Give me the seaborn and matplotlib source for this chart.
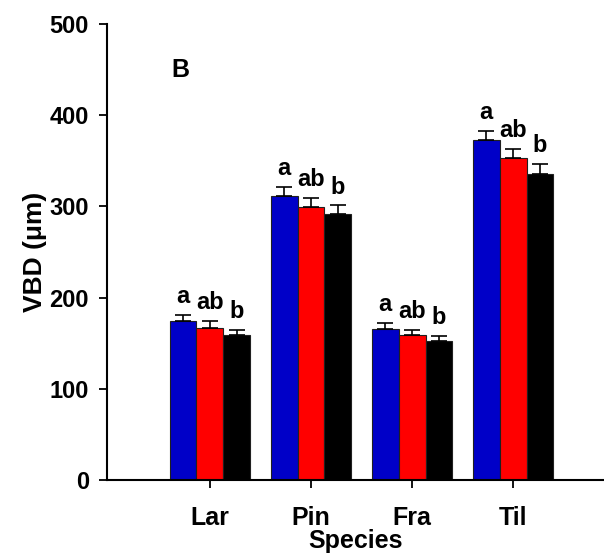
import numpy as np
import pandas as pd
import matplotlib
matplotlib.use("Agg")
import matplotlib.pyplot as plt
import seaborn as sns

# ============================================================
# 数据
# ============================================================

species = ["Lar", "Pin", "Fra", "Til"]
groups = ["G1", "G2", "G3"]
vbd_mean = [
    [174, 167, 159],   # Lar
    [311, 299, 292],   # Pin
    [166, 159, 152],   # Fra
    [373, 353, 336],   # Til
]
vbd_err = [
    [7, 7, 6],
    [10, 10, 9],
    [6, 5, 6],
    [10, 10, 10],
]
letters = ["a", "ab", "b"]
colors = ["#0000c8", "#ff0000", "#000000"]

rows = []
for i, sp in enumerate(species):
    for j, g in enumerate(groups):
        rows.append({"species": sp, "group": g,
                     "vbd": vbd_mean[i][j], "err": vbd_err[i][j]})
df = pd.DataFrame(rows)

# ============================================================
# 绘图
# ============================================================

sns.set_theme(style="ticks")
plt.rcParams["font.family"] = ["Liberation Sans", "DejaVu Sans"]
plt.rcParams["font.weight"] = "bold"
plt.rcParams["text.color"] = "black"
plt.rcParams["axes.labelcolor"] = "black"

fig = plt.figure(figsize=(6.04, 5.54), dpi=100)
ax = fig.add_axes([0.177, 0.1336, 0.823, 0.8231])

sns.barplot(data=df, x="species", y="vbd", hue="group", order=species,
            hue_order=groups, palette=colors, saturation=1, errorbar=None,
            width=0.8, edgecolor="#202020", linewidth=0.8, legend=False, ax=ax)

# 误差线（只画上半部分）和显著性字母
for j, g in enumerate(groups):
    cont = ax.containers[j]
    for i, bar in enumerate(cont):
        xc = bar.get_x() + bar.get_width() / 2
        top = bar.get_height()
        e = vbd_err[i][j]
        ax.errorbar(xc, top, yerr=[[0], [e]], fmt="none", ecolor="black",
                    elinewidth=1.2, capsize=6, capthick=1.2)
        ax.annotate(letters[j], (xc, top + e), xytext=(0, 5),
                    textcoords="offset points", ha="center", va="bottom",
                    fontsize=17, fontweight="bold", color="black")

ax.set_ylim(0, 500)
ax.set_xlim(-1.02, 3.9)
ax.set_yticks([0, 100, 200, 300, 400, 500])
ax.set_xlabel("Species", fontsize=18, fontweight="bold", labelpad=-1)
ax.set_ylabel("VBD (μm)", fontsize=19, fontweight="bold", labelpad=2)
ax.tick_params(axis="both", direction="out", length=6, width=1.3,
               labelsize=17, colors="black")
for lab in ax.get_xticklabels() + ax.get_yticklabels():
    lab.set_fontweight("bold")
ax.tick_params(axis="x", pad=13, labelsize=18)
ax.tick_params(axis="y", pad=7)

sns.despine(ax=ax)
for s in ["left", "bottom"]:
    ax.spines[s].set_linewidth(1.5)
    ax.spines[s].set_color("black")

fig.text(0.298, 0.874, "B", fontsize=18, fontweight="bold",
         ha="center", va="center", color="black")

fig.savefig("out.png", dpi=100)
